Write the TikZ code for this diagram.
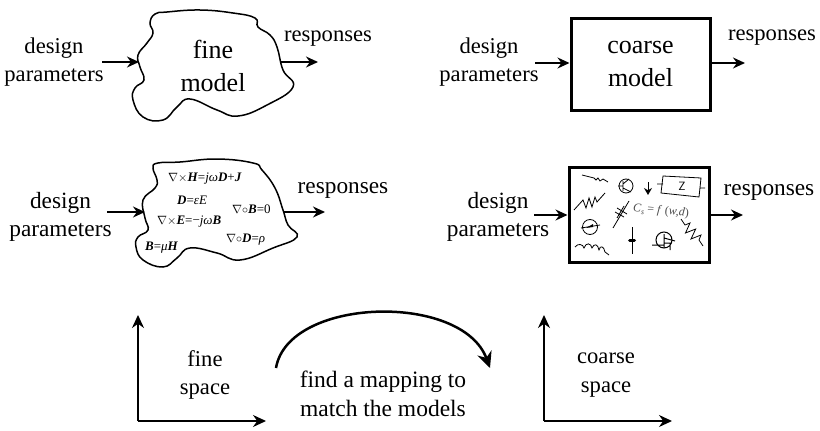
\documentclass[tikz,border=0pt]{standalone}
\usepackage{fontspec}
\setmainfont{Liberation Serif}
\usetikzlibrary{arrows.meta}
\tikzset{
    lbl/.style={align=center, inner sep=0pt, font=\fontsize{22.6}{28.5}\selectfont},
    lblb/.style={align=center, inner sep=0pt, font=\fontsize{23.3}{28.5}\selectfont},
    big/.style={align=center, inner sep=0pt, font=\fontsize{26}{32.5}\selectfont},
    eqn/.style={anchor=west, inner sep=0pt, font=\fontsize{13}{15}\selectfont},
    flow/.style={-{Stealth[length=12pt, width=11pt]}, line width=1.4pt},
    axis/.style={-{Stealth[length=13pt, width=12pt]}, line width=1.3pt},
    blob/.style={line width=1.5pt},
    part/.style={line width=0.8pt}
}
\newcommand{\bi}[1]{\textbf{\textit{#1}}}
\begin{document}
\begin{tikzpicture}[x=1pt, y=-1pt]
    \useasboundingbox (0, 0) rectangle (820, 431);

    % Fine model
    \draw [blob] plot [smooth cycle, tension=0.75] coordinates {(138, 55) (147, 43) (153, 33) (150, 23) (155, 14) (167, 12) (200, 10) (233, 13) (255, 18) (258, 27) (270, 35) (277, 47) (283, 70) (293, 87) (267, 105) (238, 116) (217, 110) (190, 99) (177, 107) (163, 120) (143, 117) (133, 100) (135, 88) (144, 80) (140, 67)};
    \node (fine) [big] at (213, 66) {fine\\model};
    \node (finein) [lbl] at (54, 62) {design\\parameters};
    \node (fineout) [lbl] at (328, 39) {responses};
    \coordinate (finea) at (102, 62);
    \coordinate (fineb) at (139, 62);
    \coordinate (finec) at (281, 62);
    \coordinate (fined) at (318, 62);
    \draw [flow] (finea) -- (fineb);
    \draw [flow] (finec) -- (fined);

    % Coarse model
    \node (coarse) [big, draw, line width=3pt, minimum width=139pt, minimum height=92pt] at (640.5, 64) {coarse\\model};
    \node (coarsein) [lbl] at (489, 62) {design\\parameters};
    \node (coarseout) [lbl] at (772, 38) {responses};
    \coordinate (coarsea) at (535, 63);
    \draw [flow] (coarsea) -- (coarse.west |- coarsea);
    \coordinate (coarseb) at (745, 63);
    \draw [flow] (coarse.east |- coarseb) -- (coarseb);

    % Field equations
    \draw [blob] plot [smooth cycle, tension=0.75] coordinates {(143, 200) (155, 188) (157, 180) (153, 168) (158, 163) (180, 162) (217, 159) (253, 163) (262, 170) (275, 188) (283, 210) (288, 225) (297, 237) (273, 248) (240, 260) (217, 253) (190, 248) (177, 258) (163, 267) (143, 260) (136, 247) (138, 237) (148, 230) (145, 218)};
    \node (eqa) [eqn] at (168, 179) {$\nabla\times$\bi{H}=\textit{jω}\bi{D}+\bi{J}};
    \node (eqb) [eqn] at (177, 200) {\bi{D}=\textit{εE}};
    \node (eqc) [eqn] at (157, 222) {$\nabla\times$\bi{E}=\textminus\textit{jω}\bi{B}};
    \node (eqd) [eqn] at (232, 209) {$\nabla\circ$\bi{B}=0};
    \node (eqe) [eqn] at (226, 240) {$\nabla\circ$\bi{D}=\textit{ρ}};
    \node (eqf) [eqn] at (145, 248) {\bi{B}=\textit{μ}\bi{H}};
    \node (fieldin) [lblb] at (60.5, 217) {design\\parameters};
    \node (fieldout) [lblb] at (343, 190) {responses};
    \coordinate (fielda) at (107, 212);
    \coordinate (fieldb) at (145, 212);
    \coordinate (fieldc) at (284, 212);
    \coordinate (fieldd) at (325, 212);
    \draw [flow] (fielda) -- (fieldb);
    \draw [flow] (fieldc) -- (fieldd);

    % Equivalent circuit
    \node (circuit) [draw, line width=3pt, minimum width=140pt, minimum height=95pt, inner sep=0pt] at (639, 214.5) {};
    \node (circuitin) [lblb] at (498, 217) {design\\parameters};
    \node (circuitout) [lblb] at (769, 192) {responses};
    \coordinate (circuita) at (534, 215);
    \draw [flow] (circuita) -- (circuit.west |- circuita);
    \coordinate (circuitb) at (743, 215);
    \draw [flow] (circuit.east |- circuitb) -- (circuitb);

    %% Resistors
    \draw [part] (582, 175) -- (594, 178) -- (596, 180) -- (598, 178) -- (600, 181) -- (603, 179) -- (608, 182);
    \draw [part] (574, 210) -- (583, 200) -- (586, 208) -- (589, 198) -- (592, 207) -- (595, 197) -- (597, 202) -- (605, 193);
    \draw [part] (681, 219) -- (685, 225) -- (690, 223) -- (685.5, 233) -- (695.7, 229) -- (691, 239) -- (701, 235) -- (699, 240) -- (703, 246);

    %% Inductor
    \draw [part] (575, 247) .. controls (578, 243) and (583, 244) .. (584, 248) .. controls (586, 242) and (591, 243) .. (592, 248) .. controls (594, 243) and (598, 244) .. (599, 250) .. controls (600, 245) and (604, 246) .. (605, 252) -- (609, 255);

    %% Transistor
    \draw [part] (626, 186) circle (7);
    \draw [part] (618, 186) -- (623, 186) (623, 181) -- (623, 191) (623, 184) -- (629, 179) (623, 188) -- (631, 192);

    %% Ground
    \draw [-{Stealth[length=7pt, width=8pt]}, line width=1pt] (648, 182) -- (648, 195);

    %% Impedance
    \draw [part] (663, 184) -- (657, 184) (663, 176) -- (701, 178) -- (699, 197) -- (661, 193) -- cycle (700, 188) -- (705, 188);
    \node (zed) [inner sep=0pt, font=\fontsize{12}{12}\sffamily\selectfont] at (682, 186) {Z};

    %% Source
    \draw [part] (590, 227) circle (7.5) (581, 228) -- (600, 225);
    \fill (586, 228) -- (593, 224) -- (593, 227) -- cycle;

    %% Varactor
    \draw [part] (613, 228) -- (629, 201) (615, 212) -- (624, 217) (617, 208) -- (627, 214) (617, 218) -- (624, 206);

    %% Capacitor
    \draw [line width=1pt] (632, 227) -- (632, 254);
    \draw [line width=3pt, line cap=round] (629.5, 240.5) -- (634.5, 240.5);

    %% FET
    \draw [line width=1pt] (664, 240) circle (8) (652, 245) -- (664, 245) (664, 234) -- (664, 247) (664, 238) -- (675, 241) (664, 243) -- (670, 243) -- (670, 250);

    \node (cap) [inner sep=0pt, text=black!70, rotate=-5, font=\fontsize{12}{14}\selectfont] at (661, 211) {\textit{C}\raisebox{-2pt}{\footnotesize\textit{s}} = \textit{f} (\textit{w,d})};

    % Fine space
    \coordinate (fineo) at (138, 421);
    \coordinate (finex) at (266, 421);
    \coordinate (finey) at (138, 315);
    \draw [axis] (fineo) -- (finex);
    \draw [axis] (fineo) -- (finey);
    \node (finelbl) [lbl] at (205, 375) {fine\\space};

    % Mapping
    \coordinate (mapa) at (276, 368);
    \coordinate (mapb) at (490, 368);
    \draw [-{Stealth[length=16pt, width=15pt]}, line width=2.5pt] (mapa) .. controls (288, 297) and (462, 292) .. (mapb);
    \node (maplbl) [lbl, font=\fontsize{23.5}{28.5}\selectfont] at (383, 394) {find a mapping to\\match the models};

    % Coarse space
    \coordinate (coarseo) at (544, 421);
    \coordinate (coarsex) at (672, 421);
    \coordinate (coarsey) at (544, 315);
    \draw [axis] (coarseo) -- (coarsex);
    \draw [axis] (coarseo) -- (coarsey);
    \node (coarselbl) [lbl] at (606, 375) {coarse\\space};

\end{tikzpicture}
\end{document}
